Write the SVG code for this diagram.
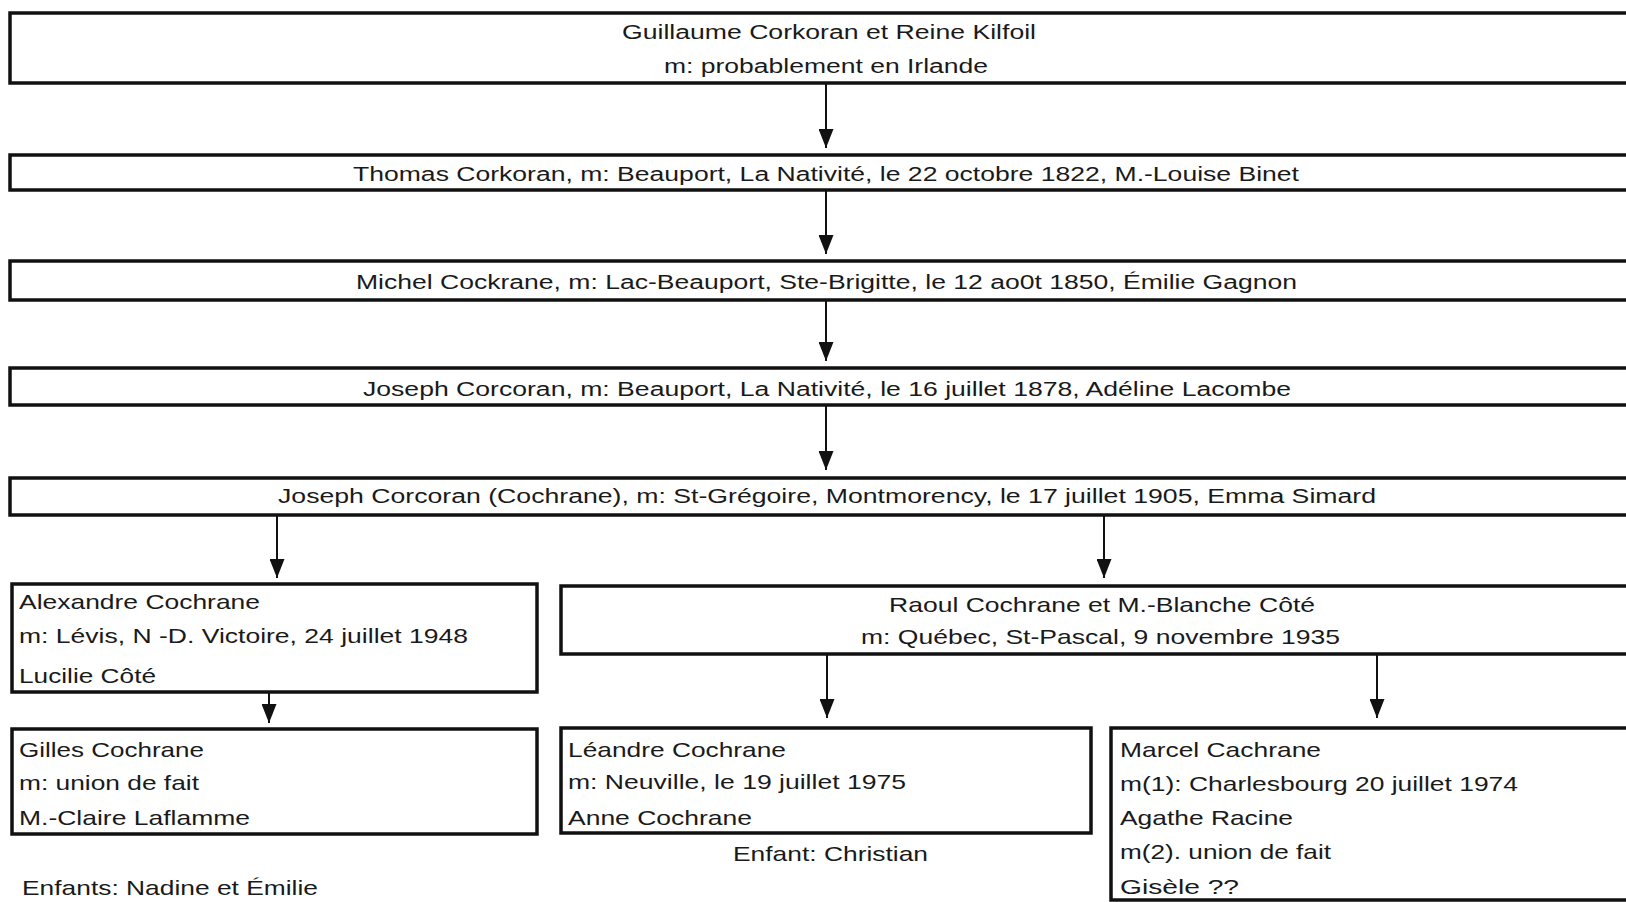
<svg xmlns="http://www.w3.org/2000/svg" width="1626" height="902" viewBox="0 0 1626 902">
  <style>
    .box { fill: #fff; stroke: #111; stroke-width: 3.5; }
    .t { font-family: "Liberation Sans", Arial, sans-serif; fill: #1a1a1a; }
    .s19 { font-size: 20px; }
    .s21 { font-size: 21px; }
    .link { stroke: #111; stroke-width: 2; fill: none; marker-end: url(#arrow); }
  </style>
  <defs>
    <marker id="arrow" markerUnits="userSpaceOnUse" markerWidth="19" markerHeight="15" refX="19" refY="7.5" orient="auto">
      <path d="M0,0 L19,7.5 L0,15 z" fill="#111"/>
    </marker>
  </defs>
  <rect x="0" y="0" width="1626" height="902" fill="#fff"/>

  <!-- generation chain -->
  <g id="guillaume">
    <rect class="box" x="10" y="13" width="1630" height="70"/>
    <text class="t s19" x="622" y="39" textLength="414" lengthAdjust="spacingAndGlyphs">Guillaume Corkoran et Reine Kilfoil</text>
    <text class="t s19" x="664" y="73" textLength="324" lengthAdjust="spacingAndGlyphs">m: probablement en Irlande</text>
  </g>
  <g id="thomas">
    <rect class="box" x="10" y="155" width="1630" height="35"/>
    <text class="t s19" x="353" y="181" textLength="946" lengthAdjust="spacingAndGlyphs">Thomas Corkoran, m: Beauport, La Nativité, le 22 octobre 1822, M.-Louise Binet</text>
  </g>
  <g id="michel">
    <rect class="box" x="10" y="261" width="1630" height="39"/>
    <text class="t s19" x="356" y="289" textLength="941" lengthAdjust="spacingAndGlyphs">Michel Cockrane, m: Lac-Beauport, Ste-Brigitte, le 12 ao0t 1850, Émilie Gagnon</text>
  </g>
  <g id="joseph1">
    <rect class="box" x="10" y="368" width="1630" height="37"/>
    <text class="t s19" x="363" y="396" textLength="928" lengthAdjust="spacingAndGlyphs">Joseph Corcoran, m: Beauport, La Nativité, le 16 juillet 1878, Adéline Lacombe</text>
  </g>
  <g id="joseph2">
    <rect class="box" x="10" y="478" width="1630" height="37"/>
    <text class="t s19" x="278" y="503" textLength="1098" lengthAdjust="spacingAndGlyphs">Joseph Corcoran (Cochrane), m: St-Grégoire, Montmorency, le 17 juillet 1905, Emma Simard</text>
  </g>

  <!-- children of Joseph & Emma -->
  <g id="alexandre">
    <rect class="box" x="12" y="584" width="525" height="108"/>
    <text class="t s21" x="19" y="609" textLength="241" lengthAdjust="spacingAndGlyphs">Alexandre Cochrane</text>
    <text class="t s21" x="19" y="643" textLength="449" lengthAdjust="spacingAndGlyphs">m: Lévis, N -D. Victoire, 24 juillet 1948</text>
    <text class="t s21" x="19" y="683" textLength="137" lengthAdjust="spacingAndGlyphs">Lucilie Côté</text>
  </g>
  <g id="raoul">
    <rect class="box" x="561" y="586" width="1080" height="68"/>
    <text class="t s21" x="889" y="612" textLength="426" lengthAdjust="spacingAndGlyphs">Raoul Cochrane et M.-Blanche Côté</text>
    <text class="t s21" x="861" y="644" textLength="479" lengthAdjust="spacingAndGlyphs">m: Québec, St-Pascal, 9 novembre 1935</text>
  </g>

  <!-- grandchildren -->
  <g id="gilles">
    <rect class="box" x="12" y="729" width="525" height="105"/>
    <text class="t s21" x="19" y="757" textLength="185" lengthAdjust="spacingAndGlyphs">Gilles Cochrane</text>
    <text class="t s21" x="19" y="790" textLength="180" lengthAdjust="spacingAndGlyphs">m: union de fait</text>
    <text class="t s21" x="19" y="825" textLength="231" lengthAdjust="spacingAndGlyphs">M.-Claire Laflamme</text>
  </g>
  <g id="gilles-children">
    <text class="t s21" x="22" y="895" textLength="296" lengthAdjust="spacingAndGlyphs">Enfants: Nadine et Émilie</text>
  </g>
  <g id="leandre">
    <rect class="box" x="561" y="728" width="530" height="105"/>
    <text class="t s21" x="568" y="757" textLength="218" lengthAdjust="spacingAndGlyphs">Léandre Cochrane</text>
    <text class="t s21" x="568" y="789" textLength="338" lengthAdjust="spacingAndGlyphs">m: Neuville, le 19 juillet 1975</text>
    <text class="t s21" x="568" y="825" textLength="184" lengthAdjust="spacingAndGlyphs">Anne Cochrane</text>
  </g>
  <g id="leandre-children">
    <text class="t s21" x="733" y="861" textLength="195" lengthAdjust="spacingAndGlyphs">Enfant: Christian</text>
  </g>
  <g id="marcel">
    <rect class="box" x="1111" y="728" width="530" height="172"/>
    <text class="t s21" x="1120" y="757" textLength="201" lengthAdjust="spacingAndGlyphs">Marcel Cachrane</text>
    <text class="t s21" x="1120" y="791" textLength="398" lengthAdjust="spacingAndGlyphs">m(1): Charlesbourg 20 juillet 1974</text>
    <text class="t s21" x="1120" y="825" textLength="173" lengthAdjust="spacingAndGlyphs">Agathe Racine</text>
    <text class="t s21" x="1120" y="859" textLength="211" lengthAdjust="spacingAndGlyphs">m(2). union de fait</text>
    <text class="t s21" x="1120" y="894" textLength="119" lengthAdjust="spacingAndGlyphs">Gisèle  ??</text>
  </g>

  <!-- descent links -->
  <g id="connectors">
    <line class="link" x1="826" y1="84" x2="826" y2="148"/>
    <line class="link" x1="826" y1="191" x2="826" y2="254"/>
    <line class="link" x1="826" y1="301" x2="826" y2="361"/>
    <line class="link" x1="826" y1="406" x2="826" y2="470"/>
    <line class="link" x1="277" y1="516" x2="277" y2="578"/>
    <line class="link" x1="1104" y1="516" x2="1104" y2="578"/>
    <line class="link" x1="269" y1="693" x2="269" y2="723"/>
    <line class="link" x1="827" y1="655" x2="827" y2="718"/>
    <line class="link" x1="1377" y1="655" x2="1377" y2="718"/>
  </g>
</svg>
